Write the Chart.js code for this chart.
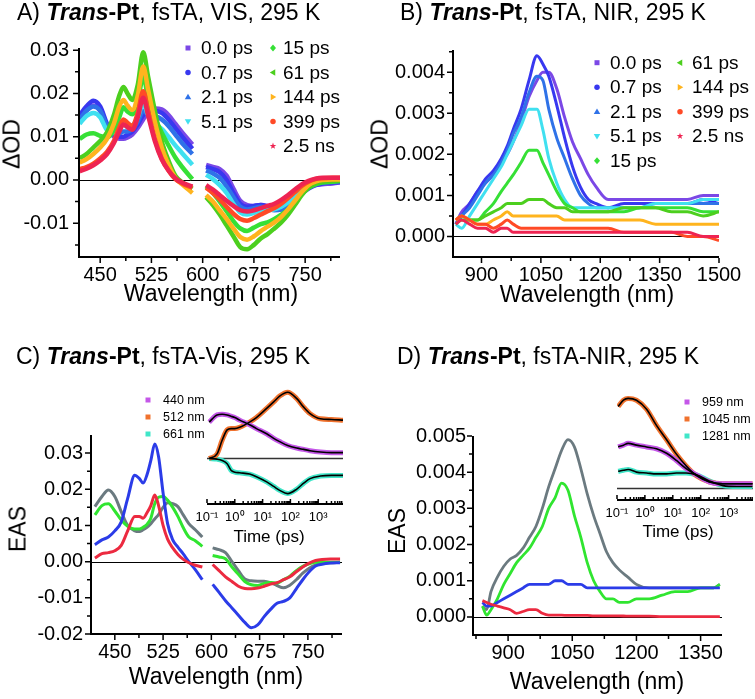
<!DOCTYPE html>
<html>
<head>
<meta charset="utf-8">
<script src="https://cdn.jsdelivr.net/npm/chart.js@4.4.1/dist/chart.umd.min.js"></script>
<style>
body { margin: 0; background: #fff; }
#wrap { position: relative; width: 755px; height: 699px; font-family: "Liberation Sans", Arial, sans-serif; color: #000; overflow: hidden; }
#wrap canvas { position: absolute; left: 0; top: 0; }
.t { position: absolute; white-space: nowrap; font-size: 23px; line-height: 23px; }
.c { transform: translateX(-50%); }
.r { transform: translate(-50%, -50%) rotate(-90deg); }
.m { transform: translate(-50%, -50%); font-size: 17px; line-height: 17px; }
</style>
</head>
<body>
<div id="wrap">
  <canvas id="cA" width="755" height="699"></canvas>
  <canvas id="cB" width="755" height="699"></canvas>
  <canvas id="cC" width="755" height="699"></canvas>
  <canvas id="cD" width="755" height="699"></canvas>
  <canvas id="cCi" width="755" height="699"></canvas>
  <canvas id="cDi" width="755" height="699"></canvas>

  <div class="t" style="left:17px;top:1px">A) <b><i>Trans</i>-Pt</b>, fsTA, VIS, 295 K</div>
  <div class="t" style="left:400px;top:1px">B) <b><i>Trans</i>-Pt</b>, fsTA, NIR, 295 K</div>
  <div class="t" style="left:16px;top:345px">C) <b><i>Trans</i>-Pt</b>, fsTA-Vis, 295 K</div>
  <div class="t" style="left:397px;top:345px">D) <b><i>Trans</i>-Pt</b>, fsTA-NIR, 295 K</div>

  <div class="t c" style="left:211px;top:282px">Wavelength (nm)</div>
  <div class="t c" style="left:587px;top:283px">Wavelength (nm)</div>
  <div class="t c" style="left:216px;top:665px">Wavelength (nm)</div>
  <div class="t c" style="left:597px;top:670px">Wavelength (nm)</div>

  <div class="t r" style="left:12px;top:144px">ΔOD</div>
  <div class="t r" style="left:380px;top:144px">ΔOD</div>
  <div class="t r" style="left:18px;top:529px">EAS</div>
  <div class="t r" style="left:397px;top:531px">EAS</div>

  <div class="t m" style="left:269px;top:536px">Time (ps)</div>
  <div class="t m" style="left:678px;top:531px">Time (ps)</div>
</div>

<script>
// ---------- A) fsTA VIS, delta OD ----------
var wlVis1 = [420, 430, 440, 450, 460, 470, 478, 484, 490, 497, 505, 513, 520, 530, 540, 550, 560, 570, 585];
var wlVis2 = [605, 615, 625, 635, 645, 655, 665, 675, 685, 695, 705, 715, 725, 735, 745, 755, 765, 775, 790, 805];
var visA_00ps = [0.0140,0.0160,0.0172,0.0160,0.0125,0.0100,0.0095,0.0095,0.0098,0.0105,0.0120,0.0140,0.0155,0.0165,0.0163,0.0150,0.0130,0.0110,0.0082,
  0.0035,0.0030,0.0025,0.0010,-0.0020,-0.0048,-0.0058,-0.0060,-0.0058,-0.0060,-0.0065,-0.0065,-0.0058,-0.0045,-0.0030,-0.0018,-0.0012,-0.0010,-0.0008,-0.0005];
var visA_07ps = [0.0150,0.0170,0.0183,0.0170,0.0130,0.0105,0.0100,0.0100,0.0105,0.0112,0.0128,0.0150,0.0158,0.0160,0.0155,0.0140,0.0120,0.0100,0.0072,
  0.0030,0.0025,0.0018,0.0000,-0.0030,-0.0055,-0.0062,-0.0060,-0.0058,-0.0062,-0.0068,-0.0068,-0.0060,-0.0048,-0.0032,-0.0020,-0.0012,-0.0008,-0.0006,-0.0004];
var visA_21ps = [0.0140,0.0160,0.0170,0.0160,0.0125,0.0108,0.0108,0.0112,0.0112,0.0118,0.0135,0.0160,0.0152,0.0148,0.0140,0.0125,0.0105,0.0085,0.0060,
  0.0022,0.0015,0.0005,-0.0015,-0.0040,-0.0062,-0.0068,-0.0065,-0.0062,-0.0065,-0.0070,-0.0068,-0.0060,-0.0045,-0.0030,-0.0018,-0.0010,-0.0006,-0.0004,-0.0002];
var visA_51ps = [0.0130,0.0148,0.0155,0.0145,0.0115,0.0110,0.0118,0.0128,0.0122,0.0125,0.0145,0.0178,0.0150,0.0130,0.0118,0.0100,0.0080,0.0062,0.0035,
  0.0012,0.0002,-0.0012,-0.0030,-0.0055,-0.0075,-0.0080,-0.0076,-0.0072,-0.0070,-0.0068,-0.0062,-0.0052,-0.0040,-0.0026,-0.0014,-0.0006,-0.0003,-0.0002,0.0000];
var visA_15ps = [0.0095,0.0105,0.0108,0.0102,0.0098,0.0115,0.0145,0.0168,0.0158,0.0152,0.0180,0.0240,0.0190,0.0145,0.0110,0.0080,0.0052,0.0030,0.0002,
  -0.0015,-0.0030,-0.0050,-0.0072,-0.0095,-0.0112,-0.0118,-0.0110,-0.0102,-0.0098,-0.0090,-0.0080,-0.0068,-0.0050,-0.0032,-0.0018,-0.0010,-0.0006,-0.0004,-0.0002];
var visA_61ps = [0.0050,0.0060,0.0075,0.0090,0.0110,0.0150,0.0195,0.0215,0.0200,0.0185,0.0220,0.0295,0.0240,0.0160,0.0090,0.0045,0.0010,-0.0005,-0.0020,
  -0.0040,-0.0058,-0.0080,-0.0105,-0.0130,-0.0155,-0.0160,-0.0150,-0.0135,-0.0125,-0.0112,-0.0098,-0.0080,-0.0058,-0.0035,-0.0018,-0.0008,-0.0004,-0.0002,-0.0001];
var visA_144ps = [0.0040,0.0048,0.0060,0.0075,0.0095,0.0130,0.0170,0.0185,0.0172,0.0162,0.0195,0.0262,0.0210,0.0135,0.0075,0.0035,0.0005,-0.0010,-0.0030,
  -0.0035,-0.0050,-0.0070,-0.0090,-0.0112,-0.0132,-0.0138,-0.0130,-0.0118,-0.0108,-0.0098,-0.0085,-0.0068,-0.0048,-0.0028,-0.0012,-0.0004,0.0000,0.0001,0.0001];
var visA_399ps = [0.0025,0.0030,0.0038,0.0050,0.0065,0.0090,0.0122,0.0140,0.0132,0.0125,0.0155,0.0205,0.0160,0.0095,0.0050,0.0022,0.0002,-0.0008,-0.0018,
  -0.0018,-0.0030,-0.0045,-0.0062,-0.0078,-0.0090,-0.0094,-0.0088,-0.0080,-0.0072,-0.0065,-0.0055,-0.0042,-0.0028,-0.0014,-0.0004,0.0002,0.0004,0.0005,0.0005];
var visA_25ns = [0.0020,0.0026,0.0034,0.0045,0.0060,0.0085,0.0112,0.0128,0.0122,0.0116,0.0145,0.0190,0.0150,0.0090,0.0048,0.0022,0.0004,-0.0006,-0.0015,
  -0.0012,-0.0022,-0.0035,-0.0048,-0.0060,-0.0070,-0.0073,-0.0070,-0.0065,-0.0060,-0.0055,-0.0046,-0.0035,-0.0022,-0.0010,-0.0002,0.0003,0.0005,0.0005,0.0005];

// ---------- B) fsTA NIR, delta OD ----------
var wlNir = [835, 850, 870, 890, 910, 930, 950, 965, 980, 1000, 1020, 1040, 1055, 1070, 1090, 1110, 1130, 1150, 1170, 1190, 1220, 1260, 1300, 1340, 1380, 1420, 1460, 1500];
var nirB_00ps = [0.0003,0.0006,0.0008,0.0011,0.0013,0.0015,0.0018,0.0020,0.0023,0.0028,0.0034,0.0038,0.0040,0.0040,0.0036,0.0029,0.0023,0.0019,0.0015,0.0012,0.0009,0.0009,0.0009,0.0009,0.0009,0.0009,0.0010,0.0010];
var nirB_07ps = [0.0003,0.0005,0.0008,0.0011,0.0014,0.0016,0.0019,0.0022,0.0026,0.0031,0.0038,0.0044,0.0042,0.0039,0.0032,0.0024,0.0017,0.0012,0.0009,0.0008,0.0007,0.0008,0.0008,0.0008,0.0008,0.0008,0.0009,0.0008];
var nirB_21ps = [0.0003,0.0005,0.0007,0.0010,0.0013,0.0015,0.0018,0.0021,0.0025,0.0029,0.0035,0.0039,0.0038,0.0031,0.0024,0.0019,0.0014,0.0010,0.0008,0.0007,0.0007,0.0007,0.0007,0.0008,0.0008,0.0008,0.0008,0.0008];
var nirB_51ps = [0.0003,0.0002,0.0005,0.0008,0.0011,0.0014,0.0017,0.0020,0.0023,0.0027,0.0031,0.0031,0.0026,0.0019,0.0013,0.0009,0.0007,0.0007,0.0007,0.0007,0.0007,0.0007,0.0007,0.0008,0.0008,0.0008,0.0009,0.0009];
var nirB_15ps = [0.0003,0.0004,0.0004,0.0004,0.0006,0.0008,0.0011,0.0013,0.0015,0.0018,0.0021,0.0021,0.0018,0.0015,0.0011,0.0008,0.0007,0.0006,0.0006,0.0006,0.0006,0.0006,0.0007,0.0007,0.0007,0.0007,0.0006,0.0006];
var nirB_61ps = [0.0004,0.0005,0.0004,0.0004,0.0005,0.0006,0.0007,0.0008,0.0008,0.0008,0.0009,0.0009,0.0009,0.0008,0.0007,0.0007,0.0006,0.0006,0.0006,0.0006,0.0006,0.0007,0.0007,0.0007,0.0006,0.0006,0.0005,0.0006];
var nirB_144ps = [0.0004,0.0005,0.0004,0.0003,0.0003,0.0004,0.0005,0.0006,0.0005,0.0005,0.0005,0.0005,0.0005,0.0005,0.0005,0.0004,0.0004,0.0004,0.0004,0.0004,0.0004,0.0004,0.0004,0.0003,0.0003,0.0003,0.0003,0.0003];
var nirB_399ps = [0.0004,0.0005,0.0004,0.0003,0.0003,0.0002,0.0003,0.0004,0.0003,0.0002,0.0002,0.0002,0.0002,0.0002,0.0002,0.0002,0.0002,0.0002,0.0002,0.0002,0.0002,0.0001,0.0001,0.0001,0.0001,0.0000,0.0000,-0.0001];
var nirB_25ns = [0.0003,0.0004,0.0003,0.0002,0.0002,0.0001,0.0002,0.0002,0.0001,0.0001,0.0001,0.0001,0.0001,0.0001,0.0001,0.0001,0.0001,0.0001,0.0001,0.0001,0.0001,0.0001,0.0001,0.0001,0.0001,0.0001,0.0000,0.0000];

var delayLabels = ['0.0 ps', '0.7 ps', '2.1 ps', '5.1 ps', '15 ps', '61 ps', '144 ps', '399 ps', '2.5 ns'];
var delayColors = ['#7B48E6', '#3838F0', '#2F72E8', '#40E0F0', '#36E036', '#4CCF1E', '#FFB41E', '#FF4A26', '#EE2452'];
var delayMarks  = ['rect', 'circle', 'triUp', 'triDown', 'diamond', 'triLeft', 'triRight', 'circle', 'star'];

// ---------- C) EAS VIS ----------
var wlEasVis1 = [419, 430, 440, 450, 460, 470, 481, 488, 494, 500, 506, 512, 518, 525, 532, 540, 548, 556, 565, 575, 586];
var wlEasVis2 = [602, 612, 622, 632, 642, 652, 662, 672, 682, 692, 702, 712, 722, 732, 742, 752, 762, 772, 785, 800];
var easC_gray = [0.0152,0.0180,0.0198,0.0180,0.0138,0.0100,0.0085,0.0083,0.0088,0.0095,0.0105,0.0118,0.0130,0.0150,0.0163,0.0160,0.0152,0.0130,0.0105,0.0088,0.0068,
  0.0038,0.0033,0.0025,0.0000,-0.0025,-0.0048,-0.0053,-0.0054,-0.0054,-0.0058,-0.0066,-0.0072,-0.0065,-0.0050,-0.0032,-0.0018,-0.0009,-0.0005,-0.0003,-0.0002];
var easC_blue = [0.0047,0.0060,0.0068,0.0085,0.0110,0.0175,0.0239,0.0230,0.0217,0.0240,0.0280,0.0325,0.0290,0.0190,0.0105,0.0060,0.0040,0.0022,0.0000,-0.0022,-0.0050,
  -0.0063,-0.0085,-0.0108,-0.0128,-0.0148,-0.0168,-0.0183,-0.0175,-0.0152,-0.0132,-0.0115,-0.0110,-0.0100,-0.0075,-0.0050,-0.0028,-0.0012,-0.0007,-0.0004,-0.0003];
var easC_green = [0.0129,0.0155,0.0160,0.0140,0.0115,0.0098,0.0090,0.0090,0.0095,0.0103,0.0120,0.0160,0.0178,0.0180,0.0170,0.0150,0.0125,0.0095,0.0068,0.0058,0.0042,
  0.0017,0.0013,0.0008,-0.0015,-0.0035,-0.0055,-0.0064,-0.0066,-0.0060,-0.0058,-0.0059,-0.0050,-0.0040,-0.0025,-0.0013,-0.0006,-0.0002,-0.0002,-0.0002,-0.0002];
var easC_red = [0.0010,0.0022,0.0025,0.0030,0.0045,0.0085,0.0125,0.0125,0.0120,0.0135,0.0155,0.0184,0.0155,0.0100,0.0062,0.0038,0.0020,0.0007,-0.0003,-0.0010,-0.0015,
  -0.0008,-0.0025,-0.0042,-0.0055,-0.0068,-0.0074,-0.0075,-0.0073,-0.0068,-0.0062,-0.0058,-0.0050,-0.0042,-0.0028,-0.0015,-0.0004,0.0003,0.0006,0.0007,0.0007];

// ---------- D) EAS NIR ----------
var wlEasNir = [840, 850, 860, 875, 890, 905, 920, 935, 950, 965, 980, 995, 1010, 1025, 1040, 1055, 1070, 1085, 1100, 1115, 1130, 1145, 1160, 1180, 1200, 1230, 1260, 1290, 1320, 1350, 1380, 1395];
var easD_gray = [0.0003,0.0002,0.0007,0.0011,0.0014,0.0016,0.0017,0.0019,0.0022,0.0025,0.0030,0.0036,0.0041,0.0046,0.0049,0.0047,0.0041,0.0034,0.0028,0.0023,0.0018,0.0015,0.0013,0.0011,0.0009,0.0008,0.0008,0.0008,0.0008,0.0008,0.0008,0.0009];
var easD_green = [0.0003,0.00005,0.0002,0.0005,0.0009,0.0012,0.0015,0.0017,0.0019,0.0022,0.0025,0.0030,0.0033,0.0037,0.0035,0.0028,0.0022,0.0015,0.0010,0.0007,0.0005,0.0005,0.0004,0.0004,0.0005,0.0005,0.0006,0.0007,0.0007,0.0008,0.0008,0.0009];
var easD_blue = [0.0004,0.0003,0.0003,0.0004,0.0005,0.0006,0.0007,0.0008,0.0009,0.0009,0.0009,0.0009,0.0010,0.0010,0.0009,0.0009,0.0009,0.0008,0.0008,0.0008,0.0008,0.0008,0.0008,0.0008,0.0008,0.0008,0.0008,0.0008,0.0008,0.0008,0.0008,0.0008];
var easD_red = [0.00045,0.0004,0.00035,0.0003,0.00025,0.0002,0.0001,0.00015,0.0002,0.0002,0.0001,0.00005,0.00005,0.00005,0.00004,0.00004,0.00004,0.00004,0.00003,0.00003,0.00003,0.00003,0.00003,0.00002,0.00002,0.00002,0.00001,0.00001,0.00001,0.00001,0.00001,0.00001];

var easColors = {gray: '#6B7A80', blue: '#2B3CE8', green: '#30E530', red: '#EC2A40'};

// ---------- insets: kinetics (normalised) ----------
var tVis = [0.12, 0.23, 0.35, 0.53, 0.73, 1.0, 1.5, 3.4, 6, 14, 25, 41, 80, 170, 300, 510, 1200, 3000, 7800];
var kinC_440 = [0.56, 0.67, 0.68, 0.67, 0.65, 0.63, 0.59, 0.52, 0.46, 0.38, 0.31, 0.26, 0.20, 0.16, 0.14, 0.12, 0.10, 0.09, 0.09];
var kinC_512 = [0.00, 0.07, 0.28, 0.44, 0.46, 0.46, 0.48, 0.56, 0.63, 0.77, 0.87, 0.96, 1.02, 0.92, 0.79, 0.69, 0.61, 0.60, 0.59];
var kinC_661 = [0.00, -0.01, -0.03, -0.08, -0.18, -0.21, -0.22, -0.24, -0.28, -0.36, -0.43, -0.49, -0.54, -0.47, -0.38, -0.31, -0.27, -0.26, -0.26];

var tNir = [0.11, 0.17, 0.25, 0.5, 1.15, 2.6, 6, 13.5, 30, 70, 210, 630, 2000, 7200];
var kinD_959 = [0.46, 0.48, 0.50, 0.48, 0.46, 0.44, 0.39, 0.31, 0.22, 0.15, 0.07, 0.05, 0.05, 0.05];
var kinD_1045 = [0.91, 0.98, 1.00, 0.98, 0.88, 0.70, 0.54, 0.38, 0.25, 0.14, 0.07, 0.05, 0.05, 0.05];
var kinD_1281 = [0.19, 0.20, 0.21, 0.18, 0.17, 0.16, 0.16, 0.17, 0.17, 0.15, 0.08, 0.03, 0.02, 0.02];

var kinColors = ['#C457E8', '#F0722E', '#40E6C8'];
var kinLabelsC = ['440 nm', '512 nm', '661 nm'];
var kinLabelsD = ['959 nm', '1045 nm', '1281 nm'];

// ---------------------------------------------------------------
var W = 755, H = 699;
var FONT = '"Liberation Sans", Arial, sans-serif';

function pts(xs, ys, gap) {
  var out = [];
  for (var i = 0; i < xs.length; i++) {
    out.push({x: xs[i], y: ys[i]});
    if (gap !== undefined && i === gap) out.push({x: (xs[i] + xs[i + 1]) / 2, y: null});
  }
  return out;
}

function line(data, color, width, order) {
  return {
    data: data, borderColor: color, backgroundColor: color, borderWidth: width,
    pointRadius: 0, cubicInterpolationMode: 'monotone', spanGaps: false, fill: false, order: order
  };
}

function mark(ctx, style, x, y, r, color) {
  ctx.save();
  ctx.fillStyle = color;
  ctx.translate(x, y);
  ctx.beginPath();
  if (style === 'rect') {
    ctx.rect(-r, -r, 2 * r, 2 * r);
  } else if (style === 'circle') {
    ctx.arc(0, 0, r * 1.1, 0, Math.PI * 2);
  } else if (style === 'diamond') {
    ctx.moveTo(0, -r * 1.4); ctx.lineTo(r * 1.2, 0); ctx.lineTo(0, r * 1.4); ctx.lineTo(-r * 1.2, 0);
  } else if (style === 'star') {
    for (var k = 0; k < 10; k++) {
      var rr = k % 2 ? r * 0.55 : r * 1.4;
      var an = -Math.PI / 2 + k * Math.PI / 5;
      ctx.lineTo(Math.cos(an) * rr, Math.sin(an) * rr);
    }
  } else {
    var rot = {triUp: 0, triDown: Math.PI, triLeft: -Math.PI / 2, triRight: Math.PI / 2}[style];
    ctx.rotate(rot);
    ctx.moveTo(0, -r * 1.3); ctx.lineTo(r * 1.3, r * 0.9); ctx.lineTo(-r * 1.3, r * 0.9);
  }
  ctx.closePath();
  ctx.fill();
  ctx.restore();
}

// axes, ticks, zero line and legend drawn the Origin way
function decor(cfg) {
  return {
    id: 'decor',
    beforeDatasetsDraw: function (chart) {
      var ctx = chart.ctx, a = chart.chartArea;
      var y0 = Math.round(chart.scales.y.getPixelForValue(0)) + 0.5;
      ctx.save();
      ctx.strokeStyle = cfg.zeroColor || '#000';
      ctx.lineWidth = cfg.zeroWidth || 1;
      ctx.beginPath(); ctx.moveTo(a.left, y0); ctx.lineTo(a.right, y0); ctx.stroke();
      ctx.restore();
    },
    afterDatasetsDraw: function (chart) {
      var ctx = chart.ctx, a = chart.chartArea, xs = chart.scales.x, ys = chart.scales.y;
      var dir = cfg.inward ? -1 : 1;
      ctx.save();
      ctx.strokeStyle = '#000';
      ctx.lineWidth = 2;
      ctx.beginPath();
      ctx.moveTo(a.left - (cfg.yAxis ? 1 : 0), a.bottom); ctx.lineTo(a.right, a.bottom);
      if (cfg.yAxis) { ctx.moveTo(a.left, a.bottom + 1); ctx.lineTo(a.left, a.top); }
      ctx.stroke();
      ctx.lineWidth = 1.5;
      ctx.beginPath();
      function xt(vals, len) {
        vals.forEach(function (v) {
          var p = xs.getPixelForValue(v);
          ctx.moveTo(p, a.bottom + dir); ctx.lineTo(p, a.bottom + dir * (len + 1));
        });
      }
      function yt(vals, len) {
        vals.forEach(function (v) {
          var p = ys.getPixelForValue(v);
          ctx.moveTo(a.left - 1, p); ctx.lineTo(a.left - 1 - len, p);
        });
      }
      xt(cfg.x.ticks, cfg.majLen); xt(cfg.x.minor, cfg.minLen);
      if (cfg.yAxis) { yt(cfg.y.ticks, cfg.majLen); yt(cfg.y.minor, cfg.minLen); }
      ctx.stroke();
      ctx.restore();
    },
    afterDraw: function (chart) {
      if (!cfg.legend) return;
      var ctx = chart.ctx, L = cfg.legend;
      ctx.save();
      ctx.font = L.size + 'px ' + FONT;
      ctx.textBaseline = 'middle';
      ctx.textAlign = 'left';
      L.items.forEach(function (it) {
        mark(ctx, it.style, it.mx, it.y, L.r, it.color);
        ctx.fillStyle = '#000';
        ctx.fillText(it.text, it.tx, it.y + 1);
      });
      ctx.restore();
    }
  };
}

function axisOpts(ax, isX, size, font, pad) {
  if (ax.hidden) return {display: false, min: ax.min, max: ax.max};
  return {
    type: ax.log ? 'logarithmic' : 'linear',
    min: ax.min, max: ax.max,
    afterFit: function (s) { if (isX) s.height = size; else s.width = size; },
    afterBuildTicks: function (s) { s.ticks = ax.ticks.map(function (v) { return {value: v}; }); },
    ticks: {
      font: {family: FONT, size: font}, color: '#000', padding: pad,
      autoSkip: false, maxRotation: 0, minRotation: 0,
      callback: function (v) { return ax.fmt(v); }
    },
    grid: {display: false, drawTicks: false},
    border: {display: false}
  };
}

function makeChart(id, cfg) {
  var a = cfg.area;
  var yW = cfg.y.hidden ? 0 : cfg.yW;
  return new Chart(document.getElementById(id), {
    type: 'line',
    data: {datasets: cfg.datasets},
    options: {
      responsive: false, animation: false, devicePixelRatio: 1, events: [],
      layout: {padding: {left: a.l - yW, top: a.t, right: W - a.r, bottom: H - a.b - cfg.xH}},
      plugins: {legend: {display: false}, tooltip: {enabled: false}},
      scales: {
        x: axisOpts(cfg.x, true, cfg.xH, cfg.font, cfg.xPad),
        y: axisOpts(cfg.y, false, yW, cfg.font, cfg.yPad)
      }
    },
    plugins: [decor(cfg)]
  });
}

function fix(n) { return function (v) { return v.toFixed(n); }; }
function legendCols(labels, colors, marks, cols, y0, dy) {
  var items = [];
  var k = 0;
  cols.forEach(function (c) {
    for (var i = 0; i < c.n; i++, k++) {
      items.push({text: labels[k], color: colors[k], style: marks[k], mx: c.mx, tx: c.tx, y: y0 + dy * i});
    }
  });
  return items;
}

var visX = wlVis1.concat(wlVis2);
var visSeries = [visA_00ps, visA_07ps, visA_21ps, visA_51ps, visA_15ps, visA_61ps, visA_144ps, visA_399ps, visA_25ns];
var nirSeries = [nirB_00ps, nirB_07ps, nirB_21ps, nirB_51ps, nirB_15ps, nirB_61ps, nirB_144ps, nirB_399ps, nirB_25ns];

var visTicks = [450, 525, 600, 675, 750];
var visMinor = [487.5, 562.5, 637.5, 712.5, 787.5];

// A
makeChart('cA', {
  area: {l: 79, t: 48, r: 340, b: 257}, yW: 60, xH: 30, font: 20, xPad: 6, yPad: 10,
  yAxis: true, majLen: 5, minLen: 3,
  x: {min: 419, max: 801, ticks: visTicks, minor: visMinor, fmt: fix(0)},
  y: {min: -0.0178, max: 0.0305, ticks: [-0.01, 0, 0.01, 0.02, 0.03], minor: [-0.015, -0.005, 0.005, 0.015, 0.025], fmt: fix(2)},
  datasets: visSeries.map(function (s, i) { return line(pts(visX, s, wlVis1.length - 1), delayColors[i], 4.5, 9 - i); }),
  legend: {size: 19, r: 2.5, items: legendCols(delayLabels, delayColors, delayMarks, [{n: 4, mx: 188, tx: 201}, {n: 5, mx: 273, tx: 283}], 48, 24.5)}
});

// B
makeChart('cB', {
  area: {l: 453, t: 50, r: 719, b: 257}, yW: 60, xH: 30, font: 20, xPad: 6, yPad: 8,
  yAxis: true, majLen: 5, minLen: 3,
  x: {min: 828, max: 1500, ticks: [900, 1050, 1200, 1350, 1500], minor: [975, 1125, 1275, 1425], fmt: fix(0)},
  y: {min: -0.0005, max: 0.00454, ticks: [0, 0.001, 0.002, 0.003, 0.004], minor: [0.0005, 0.0015, 0.0025, 0.0035, 0.0045], fmt: fix(3)},
  datasets: nirSeries.map(function (s, i) { return line(pts(wlNir, s), delayColors[i], 3, 9 - i); }),
  legend: {size: 19, r: 2.5, items: legendCols(delayLabels, delayColors, delayMarks, [{n: 5, mx: 597, tx: 610}, {n: 4, mx: 680, tx: 692}], 62.7, 24.5)}
});

// C
var easVisX = wlEasVis1.concat(wlEasVis2);
var gC = wlEasVis1.length - 1;
makeChart('cC', {
  area: {l: 91, t: 435, r: 342, b: 634}, yW: 60, xH: 30, font: 20, xPad: 6, yPad: 8,
  yAxis: true, majLen: 5, minLen: 3,
  x: {min: 413, max: 803, ticks: visTicks, minor: visMinor, fmt: fix(0)},
  y: {min: -0.02, max: 0.035, ticks: [-0.02, -0.01, 0, 0.01, 0.02, 0.03], minor: [-0.015, -0.005, 0.005, 0.015, 0.025], fmt: fix(2)},
  datasets: [
    line(pts(easVisX, easC_gray, gC), easColors.gray, 3, 4),
    line(pts(easVisX, easC_green, gC), easColors.green, 3, 3),
    line(pts(easVisX, easC_blue, gC), easColors.blue, 3, 2),
    line(pts(easVisX, easC_red, gC), easColors.red, 3, 1)
  ]
});

// D
makeChart('cD', {
  area: {l: 473, t: 436, r: 722, b: 635}, yW: 60, xH: 30, font: 20, xPad: 6, yPad: 7,
  yAxis: true, majLen: 5, minLen: 3,
  x: {min: 818, max: 1400, ticks: [900, 1050, 1200, 1350], minor: [825, 975, 1125, 1275], fmt: fix(0)},
  y: {min: -0.0005, max: 0.005, ticks: [0, 0.001, 0.002, 0.003, 0.004, 0.005], minor: [0.0005, 0.0015, 0.0025, 0.0035, 0.0045], fmt: fix(3)},
  datasets: [
    line(pts(wlEasNir, easD_gray), easColors.gray, 2.8, 4),
    line(pts(wlEasNir, easD_green), easColors.green, 2.8, 3),
    line(pts(wlEasNir, easD_blue), easColors.blue, 2.8, 2),
    line(pts(wlEasNir, easD_red), easColors.red, 2.8, 1)
  ]
});

// insets
var decades = [0.1, 1, 10, 100, 1000];
var logMinor = [];
decades.forEach(function (d) { for (var m = 2; m <= 9; m++) if (d * m < 7500) logMinor.push(d * m); });
var sup = {'0.1': '10⁻¹', '1': '10⁰', '10': '10¹', '100': '10²', '1000': '10³'};
function supFmt(v) { return sup[String(v)] || ''; }

function kinSets(ts, series) {
  var sets = [];
  series.forEach(function (s, i) { sets.push(line(pts(ts, s), kinColors[i], 5, 10 + i)); });
  series.forEach(function (s) { sets.push(line(pts(ts, s), '#000', 1.6, 1)); });
  return sets;
}

makeChart('cCi', {
  area: {l: 207, t: 386, r: 343, b: 504}, yW: 0, xH: 25, font: 13, xPad: 6, yPad: 0,
  yAxis: false, inward: true, majLen: 4, minLen: 2, zeroColor: '#333', zeroWidth: 1.5,
  x: {log: true, min: 0.1, max: 7800, ticks: decades, minor: logMinor, fmt: supFmt},
  y: {hidden: true, min: -0.70, max: 1.115},
  datasets: kinSets(tVis, [kinC_440, kinC_512, kinC_661]),
  legend: {size: 12.5, r: 2.5, items: legendCols(kinLabelsC, kinColors, ['rect', 'rect', 'rect'], [{n: 3, mx: 148, tx: 163}], 400, 17)}
});

makeChart('cDi', {
  area: {l: 617, t: 393, r: 753, b: 500}, yW: 0, xH: 25, font: 13, xPad: 6, yPad: 0,
  yAxis: false, inward: true, majLen: 4, minLen: 2, zeroColor: '#333', zeroWidth: 1.5,
  x: {log: true, min: 0.1, max: 7500, ticks: decades, minor: logMinor, fmt: supFmt},
  y: {hidden: true, min: -0.13, max: 1.06},
  datasets: kinSets(tNir, [kinD_959, kinD_1045, kinD_1281]),
  legend: {size: 12.5, r: 2.5, items: legendCols(kinLabelsD, kinColors, ['rect', 'rect', 'rect'], [{n: 3, mx: 687, tx: 702}], 402, 17)}
});
</script>
</body>
</html>
